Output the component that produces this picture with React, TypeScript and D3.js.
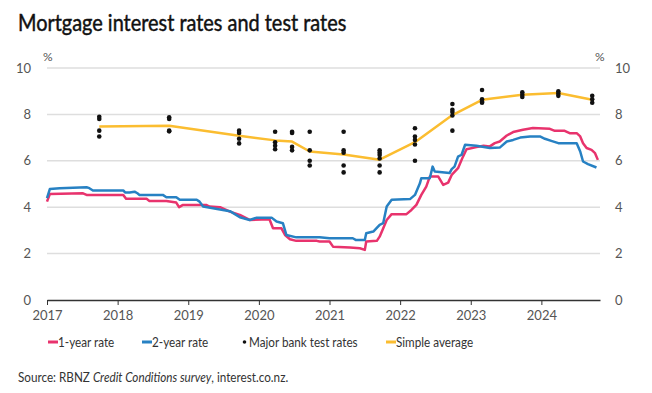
import { useEffect, useRef } from 'react';
import * as d3 from 'd3';

// Fechas en años decimales, tasas en %
const oneYearDates = [
  2017.0, 2017.04, 2017.51, 2017.56, 2018.08, 2018.12, 2018.41, 2018.45, 2018.69, 2018.83,
  2018.87, 2018.92, 2019.26, 2019.3, 2019.45, 2019.59, 2019.73, 2019.87, 2020.15, 2020.2,
  2020.32, 2020.37, 2020.44, 2020.53, 2020.82, 2020.86, 2021.0, 2021.05, 2021.29, 2021.43,
  2021.5, 2021.52, 2021.67, 2021.71, 2021.81, 2021.88, 2022.09, 2022.16, 2022.23, 2022.3,
  2022.37, 2022.42, 2022.54, 2022.61, 2022.68, 2022.73, 2022.82, 2022.89, 2022.94, 2023.08,
  2023.18, 2023.27, 2023.34, 2023.41, 2023.51, 2023.6, 2023.74, 2023.88, 2024.12, 2024.19,
  2024.33, 2024.4, 2024.5, 2024.55, 2024.59, 2024.64, 2024.71, 2024.76, 2024.8,
];
const oneYearRates = [
  4.24, 4.57, 4.6, 4.53, 4.53, 4.36, 4.36, 4.27, 4.27, 4.2,
  4.0, 4.09, 4.09, 4.03, 4.0, 3.81, 3.67, 3.45, 3.48, 3.09,
  3.09, 2.8, 2.62, 2.55, 2.55, 2.52, 2.52, 2.3, 2.26, 2.23,
  2.16, 2.52, 2.55, 2.73, 3.45, 3.7, 3.7, 3.88, 4.1, 4.53,
  4.89, 5.32, 5.32, 4.96, 5.06, 5.39, 5.68, 6.18, 6.5, 6.59,
  6.65, 6.62, 6.76, 6.83, 7.09, 7.24, 7.34, 7.41, 7.38, 7.29,
  7.29, 7.19, 7.19, 7.05, 6.76, 6.55, 6.47, 6.33, 6.04,
];

const twoYearDates = [
  2017.0, 2017.04, 2017.18, 2017.56, 2017.6, 2017.65, 2018.08, 2018.11, 2018.17, 2018.24,
  2018.28, 2018.31, 2018.64, 2018.69, 2018.83, 2018.88, 2019.12, 2019.16, 2019.21, 2019.45,
  2019.59, 2019.73, 2019.87, 2019.97, 2020.18, 2020.25, 2020.34, 2020.39, 2020.53, 2020.86,
  2021.0, 2021.33, 2021.37, 2021.5, 2021.52, 2021.62, 2021.71, 2021.76, 2021.81, 2021.88,
  2022.14, 2022.21, 2022.28, 2022.3, 2022.42, 2022.46, 2022.49, 2022.7, 2022.73, 2022.77,
  2022.82, 2022.87, 2022.92, 2023.08, 2023.27, 2023.41, 2023.51, 2023.6, 2023.7, 2023.84,
  2023.98, 2024.05, 2024.14, 2024.24, 2024.5, 2024.55, 2024.59, 2024.66, 2024.78,
];
const twoYearRates = [
  4.39, 4.78, 4.82, 4.86, 4.82, 4.72, 4.72, 4.63, 4.63, 4.67,
  4.6, 4.53, 4.53, 4.43, 4.43, 4.32, 4.32, 4.24, 4.03, 3.9,
  3.83, 3.57, 3.45, 3.55, 3.55, 3.38, 3.31, 2.8, 2.7, 2.7,
  2.66, 2.66, 2.59, 2.59, 2.88, 2.95, 3.24, 3.31, 4.03, 4.32,
  4.35, 4.53, 5.03, 5.25, 5.25, 5.75, 5.54, 5.47, 5.64, 5.75,
  6.18, 6.26, 6.69, 6.65, 6.55, 6.57, 6.83, 6.9, 7.0, 7.05,
  7.05, 6.95, 6.86, 6.76, 6.76, 6.4, 5.97, 5.86, 5.71,
];

const testDates = [
  2017.74, 2018.73, 2019.72, 2020.23, 2020.47, 2020.72, 2021.2, 2021.71,
  2022.21, 2022.74, 2023.16, 2023.73, 2024.24, 2024.72,
];
const testRates = [
  [7.9, 7.8, 7.3, 7.05],
  [7.88, 7.8, 7.3, 7.27],
  [7.3, 7.2, 6.95, 6.75],
  [7.25, 6.8, 6.65, 6.5],
  [7.25, 7.2, 6.6, 6.45],
  [7.25, 6.45, 6.0, 5.8],
  [7.25, 6.45, 6.35, 5.8, 5.5],
  [6.45, 6.35, 6.25, 6.1, 5.8, 5.5],
  [7.4, 7.05, 6.9, 6.7, 6.0],
  [8.45, 8.2, 8.1, 7.95, 7.3],
  [9.05, 8.65, 8.55, 8.5],
  [8.95, 8.85, 8.75],
  [9.0, 8.9, 8.8],
  [8.8, 8.65, 8.5],
];
const averageRates = [7.48, 7.51, 7.08, 6.88, 6.83, 6.4, 6.27, 6.05, 6.8, 7.97, 8.63, 8.85, 8.92, 8.63];

const yearTicks = [2017, 2018, 2019, 2020, 2021, 2022, 2023, 2024];
const rateTicks = [0, 2, 4, 6, 8, 10];

const legendItems = ['1-year rate', '2-year rate', 'Major bank test rates', 'Simple average'];

const PINK = '#e8336d';
const BLUE = '#2781c3';
const YELLOW = '#fbbd30';
const FONT = 'Lato, sans-serif';

export default function App() {
  const svgRef = useRef<SVGSVGElement>(null);

  useEffect(() => {
    if (!svgRef.current) return;
    const svg = d3.select(svgRef.current);
    svg.selectAll('*').remove();

    const W = 652;
    const H = 393;
    const margin = { top: 68, right: 52, bottom: 93, left: 47 };

    const x = d3.scaleLinear().domain([2017, 2024.83]).range([margin.left, W - margin.right]);
    const y = d3.scaleLinear().domain([0, 10]).range([H - margin.bottom, margin.top]);

    // Título (fuente algo condensada, como el original)
    svg.append('text')
      .attr('transform', 'translate(18,31) scale(0.885,1)')
      .attr('font-family', FONT)
      .attr('font-size', 22.5)
      .attr('font-weight', 400)
      .attr('fill', '#111')
      .attr('stroke', '#111')
      .attr('stroke-width', 0.45)
      .text('Mortgage interest rates and test rates');

    // Rejilla
    svg.append('g')
      .selectAll('line')
      .data(rateTicks.filter(d => d > 0))
      .enter().append('line')
      .attr('x1', x(2017))
      .attr('x2', x(2024.83))
      .attr('y1', d => y(d))
      .attr('y2', d => y(d))
      .attr('stroke', '#dedede')
      .attr('stroke-width', 1.5);

    // Ejes Y (izq y der)
    const yLabels = svg.append('g')
      .attr('font-family', FONT)
      .attr('font-size', 13)
      .attr('fill', '#555');
    yLabels.selectAll('text.l')
      .data(rateTicks)
      .enter().append('text')
      .attr('class', 'l')
      .attr('x', 31)
      .attr('y', d => y(d))
      .attr('dy', '0.35em')
      .attr('text-anchor', 'end')
      .text(d => d);
    yLabels.selectAll('text.r')
      .data(rateTicks)
      .enter().append('text')
      .attr('class', 'r')
      .attr('x', 615)
      .attr('y', d => y(d))
      .attr('dy', '0.35em')
      .text(d => d);
    yLabels.append('text').attr('x', 43).attr('y', 61).attr('font-size', 12).text('%');
    yLabels.append('text').attr('x', 595).attr('y', 61).attr('font-size', 12).text('%');

    // Eje X
    const xAxis = d3.axisBottom(x)
      .tickValues(yearTicks)
      .tickFormat(d => String(d))
      .tickSize(5)
      .tickSizeOuter(0);
    const gx = svg.append('g')
      .attr('transform', `translate(0,${y(0)})`)
      .call(xAxis);
    gx.select('.domain').attr('stroke', '#333').attr('stroke-width', 1.3);
    gx.selectAll('.tick line').attr('stroke', '#333');
    gx.selectAll('.tick text')
      .attr('font-family', FONT)
      .attr('font-size', 13)
      .attr('fill', '#555')
      .attr('dy', '0.9em');

    const line = d3.line<[number, number]>()
      .x(d => x(d[0]))
      .y(d => y(d[1]));

    const oneYear = oneYearDates.map((d, i) => [d, oneYearRates[i]] as [number, number]);
    const twoYear = twoYearDates.map((d, i) => [d, twoYearRates[i]] as [number, number]);
    const average = testDates.map((d, i) => [d, averageRates[i]] as [number, number]);

    svg.append('path')
      .datum(oneYear)
      .attr('fill', 'none')
      .attr('stroke', PINK)
      .attr('stroke-width', 2.5)
      .attr('stroke-linejoin', 'round')
      .attr('d', line);

    svg.append('path')
      .datum(twoYear)
      .attr('fill', 'none')
      .attr('stroke', BLUE)
      .attr('stroke-width', 2.5)
      .attr('stroke-linejoin', 'round')
      .attr('d', line);

    svg.append('path')
      .datum(average)
      .attr('fill', 'none')
      .attr('stroke', YELLOW)
      .attr('stroke-width', 2.5)
      .attr('stroke-linejoin', 'round')
      .attr('d', line);

    // Puntos de test rates
    const dots = testDates.flatMap((d, i) => testRates[i].map(v => [d, v] as [number, number]));
    svg.append('g')
      .selectAll('circle')
      .data(dots)
      .enter().append('circle')
      .attr('cx', d => x(d[0]))
      .attr('cy', d => y(d[1]))
      .attr('r', 2.3)
      .attr('fill', '#111');

    // Leyenda
    const legendX = [48, 142, 241, 386];
    const legend = svg.append('g')
      .attr('font-family', FONT)
      .attr('font-size', 13)
      .attr('fill', '#333')
      .selectAll('g')
      .data(legendItems)
      .enter().append('g')
      .attr('transform', (d, i) => `translate(${legendX[i]},342)`);

    legend.filter((d, i) => i !== 2)
      .append('line')
      .attr('x1', 0)
      .attr('x2', 10)
      .attr('stroke-width', 3)
      .attr('stroke', (d, i) => [PINK, BLUE, YELLOW][i]);
    legend.filter((d, i) => i === 2)
      .append('circle')
      .attr('cx', 3.5)
      .attr('r', 1.8)
      .attr('fill', '#111');
    legend.append('text')
      .attr('transform', (d, i) => `translate(${i === 2 ? 8 : 10},0) scale(0.9,1)`)
      .attr('dy', '0.35em')
      .text(d => d);

    // Fuente
    const source = svg.append('text')
      .attr('transform', 'translate(18,382) scale(0.9,1)')
      .attr('font-family', FONT)
      .attr('font-size', 13)
      .attr('fill', '#333');
    source.append('tspan').text('Source: RBNZ ');
    source.append('tspan').attr('font-style', 'italic').text('Credit Conditions survey');
    source.append('tspan').text(', interest.co.nz.');
  }, []);

  return (
    <div style={{ position: 'absolute', left: 0, top: 0 }}>
      <svg ref={svgRef} width={652} height={393} style={{ display: 'block', background: '#fff' }} />
    </div>
  );
}
